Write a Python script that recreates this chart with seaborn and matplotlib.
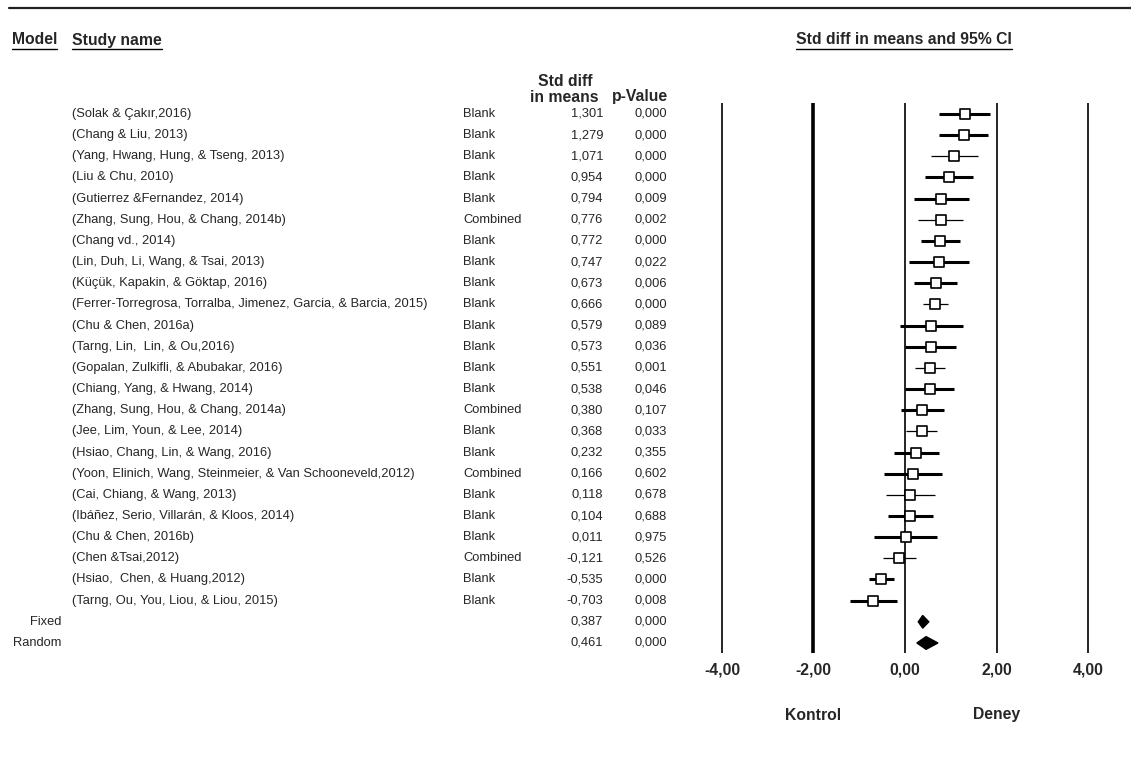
import numpy as np
import pandas as pd
import matplotlib
matplotlib.use("Agg")
import matplotlib.pyplot as plt
import matplotlib.transforms as mtransforms
import seaborn as sns

studies = ["(Solak & Çakır,2016)", "(Chang & Liu, 2013)", "(Yang, Hwang, Hung, & Tseng, 2013)",
           "(Liu & Chu, 2010)", "(Gutierrez &Fernandez, 2014)", "(Zhang, Sung, Hou, & Chang, 2014b)",
           "(Chang vd., 2014)", "(Lin, Duh, Li, Wang, & Tsai, 2013)", "(Küçük, Kapakin, & Göktap, 2016)",
           "(Ferrer-Torregrosa, Torralba, Jimenez, Garcia, & Barcia, 2015)", "(Chu & Chen, 2016a)",
           "(Tarng, Lin,  Lin, & Ou,2016)", "(Gopalan, Zulkifli, & Abubakar, 2016)",
           "(Chiang, Yang, & Hwang, 2014)", "(Zhang, Sung, Hou, & Chang, 2014a)",
           "(Jee, Lim, Youn, & Lee, 2014)", "(Hsiao, Chang, Lin, & Wang, 2016)",
           "(Yoon, Elinich, Wang, Steinmeier, & Van Schooneveld,2012)", "(Cai, Chiang, & Wang, 2013)",
           "(Ibáñez, Serio, Villarán, & Kloos, 2014)", "(Chu & Chen, 2016b)", "(Chen &Tsai,2012)",
           "(Hsiao,  Chen, & Huang,2012)", "(Tarng, Ou, You, Liou, & Liou, 2015)"]
subgroups = ["Blank", "Blank", "Blank", "Blank", "Blank", "Combined", "Blank", "Blank", "Blank",
             "Blank", "Blank", "Blank", "Blank", "Blank", "Combined", "Blank", "Blank", "Combined",
             "Blank", "Blank", "Blank", "Combined", "Blank", "Blank"]
std_diff = [1.301, 1.279, 1.071, 0.954, 0.794, 0.776, 0.772, 0.747, 0.673, 0.666, 0.579, 0.573,
            0.551, 0.538, 0.380, 0.368, 0.232, 0.166, 0.118, 0.104, 0.011, -0.121, -0.535, -0.703]
p_values = [0.000, 0.000, 0.000, 0.000, 0.009, 0.002, 0.000, 0.022, 0.006, 0.000, 0.089, 0.036,
            0.001, 0.046, 0.107, 0.033, 0.355, 0.602, 0.678, 0.688, 0.975, 0.526, 0.000, 0.008]
lower = [0.74, 0.74, 0.56, 0.44, 0.20, 0.29, 0.35, 0.09, 0.20, 0.40, -0.10, 0.01,
         0.22, 0.01, -0.09, 0.02, -0.24, -0.46, -0.42, -0.38, -0.68, -0.49, -0.79, -1.21]
upper = [1.86, 1.82, 1.60, 1.48, 1.39, 1.26, 1.21, 1.40, 1.14, 0.94, 1.26, 1.11,
         0.88, 1.07, 0.85, 0.70, 0.74, 0.80, 0.66, 0.61, 0.70, 0.24, -0.25, -0.17]

models = ["Fixed", "Random"]
model_est = [0.387, 0.461]
model_p = [0.000, 0.000]
model_lower = [0.29, 0.26]
model_upper = [0.52, 0.72]

xticks = [-4, -2, 0, 2, 4]
xtick_labels = ["-4,00", "-2,00", "0,00", "2,00", "4,00"]
side_labels = ["Kontrol", "Deney"]

df = pd.DataFrame({"study": studies, "group": subgroups, "est": std_diff, "p": p_values,
                   "lo": lower, "hi": upper})
df["row"] = np.arange(len(df))
n = len(df)

sns.set_theme(style="white")
plt.rcParams["font.family"] = ["Liberation Sans", "DejaVu Sans"]

W, H = 1131, 769
fig = plt.figure(figsize=(W / 100, H / 100), dpi=100)
# forest panel: x -4..4 on pixels 722..1088, rows 0..25 on pixels 114..643
ax = fig.add_axes([699.1 / W, 1 - 652.5 / H, 411.8 / W, 549.1 / H])
ax.set_xlim(-4.5, 4.5)
ax.set_ylim(n + 1.45, -0.5)
for s in ax.spines.values():
    s.set_visible(False)

for t in xticks:
    ax.axvline(t, color="black", lw=2.6 if t == -2 else 1.2, zorder=1)

thin_rows = {2, 5, 9, 12, 15, 18, 21}
for _, r in df.iterrows():
    ax.hlines(r["row"], r["lo"], r["hi"], color="black",
              lw=0.9 if r["row"] in thin_rows else 2.2, zorder=2)
sns.scatterplot(data=df, x="est", y="row", marker="s", s=52, color="white",
                edgecolor="black", linewidth=1.2, zorder=3, ax=ax, legend=False)

for i, (est, lo, hi) in enumerate(zip(model_est, model_lower, model_upper)):
    y = n + i
    ax.fill([lo, est, hi, est], [y, y - 0.3, y, y + 0.3], color="black", zorder=3)

bold = 11.3
ax.set_xticks(xticks)
ax.set_xticklabels(xtick_labels, fontsize=bold, fontweight="bold")
ax.tick_params(axis="x", length=0, pad=7)
ax.set_yticks([])
ax.set_xlabel("")
ax.set_ylabel("")

for x, lab in zip([-2, 2], side_labels):
    ax.text(x, 1 - 715 / H, lab, transform=mtransforms.blended_transform_factory(ax.transData, fig.transFigure),
            ha="center", va="center", fontsize=bold, fontweight="bold")

# table columns: x in figure pixels, y in rows
tr = mtransforms.blended_transform_factory(fig.transFigure, ax.transData)
fs = 9.3
for _, r in df.iterrows():
    y = r["row"]
    fig.text(72 / W, y, r["study"], transform=tr, ha="left", va="center", fontsize=fs)
    fig.text(463 / W, y, r["group"], transform=tr, ha="left", va="center", fontsize=fs)
    fig.text(603 / W, y, f"{r['est']:.3f}".replace(".", ","), transform=tr, ha="right", va="center", fontsize=fs)
    fig.text(667 / W, y, f"{r['p']:.3f}".replace(".", ","), transform=tr, ha="right", va="center", fontsize=fs)
for i, (m, est, p) in enumerate(zip(models, model_est, model_p)):
    y = n + i
    fig.text(61 / W, y, m, transform=tr, ha="right", va="center", fontsize=fs)
    fig.text(603 / W, y, f"{est:.3f}".replace(".", ","), transform=tr, ha="right", va="center", fontsize=fs)
    fig.text(667 / W, y, f"{p:.3f}".replace(".", ","), transform=tr, ha="right", va="center", fontsize=fs)

# headers
hdr = []
hdr.append(fig.text(12 / W, 1 - 40 / H, "Model", ha="left", va="center", fontsize=bold, fontweight="bold"))
hdr.append(fig.text(72 / W, 1 - 40 / H, "Study name", ha="left", va="center", fontsize=bold, fontweight="bold"))
hdr.append(fig.text(904 / W, 1 - 40 / H, "Std diff in means and 95% CI", ha="center", va="center",
                    fontsize=bold, fontweight="bold"))
fig.text(565 / W, 1 - 82 / H, "Std diff", ha="center", va="center", fontsize=bold, fontweight="bold")
fig.text(598 / W, 1 - 97 / H, "in means", ha="right", va="center", fontsize=bold, fontweight="bold")
fig.text(668 / W, 1 - 97 / H, "p-Value", ha="right", va="center", fontsize=bold, fontweight="bold")

fig.add_artist(plt.Line2D([9 / W, 1], [1 - 8 / H, 1 - 8 / H], color="#222222", lw=1.6))

fig.canvas.draw()
rend = fig.canvas.get_renderer()
for t in hdr:
    bb = t.get_window_extent(rend)
    yb = (bb.y0 - 1) / H
    fig.add_artist(plt.Line2D([bb.x0 / W, bb.x1 / W], [yb, yb], color="black", lw=1.0))

fig.savefig("out.png", dpi=100)
